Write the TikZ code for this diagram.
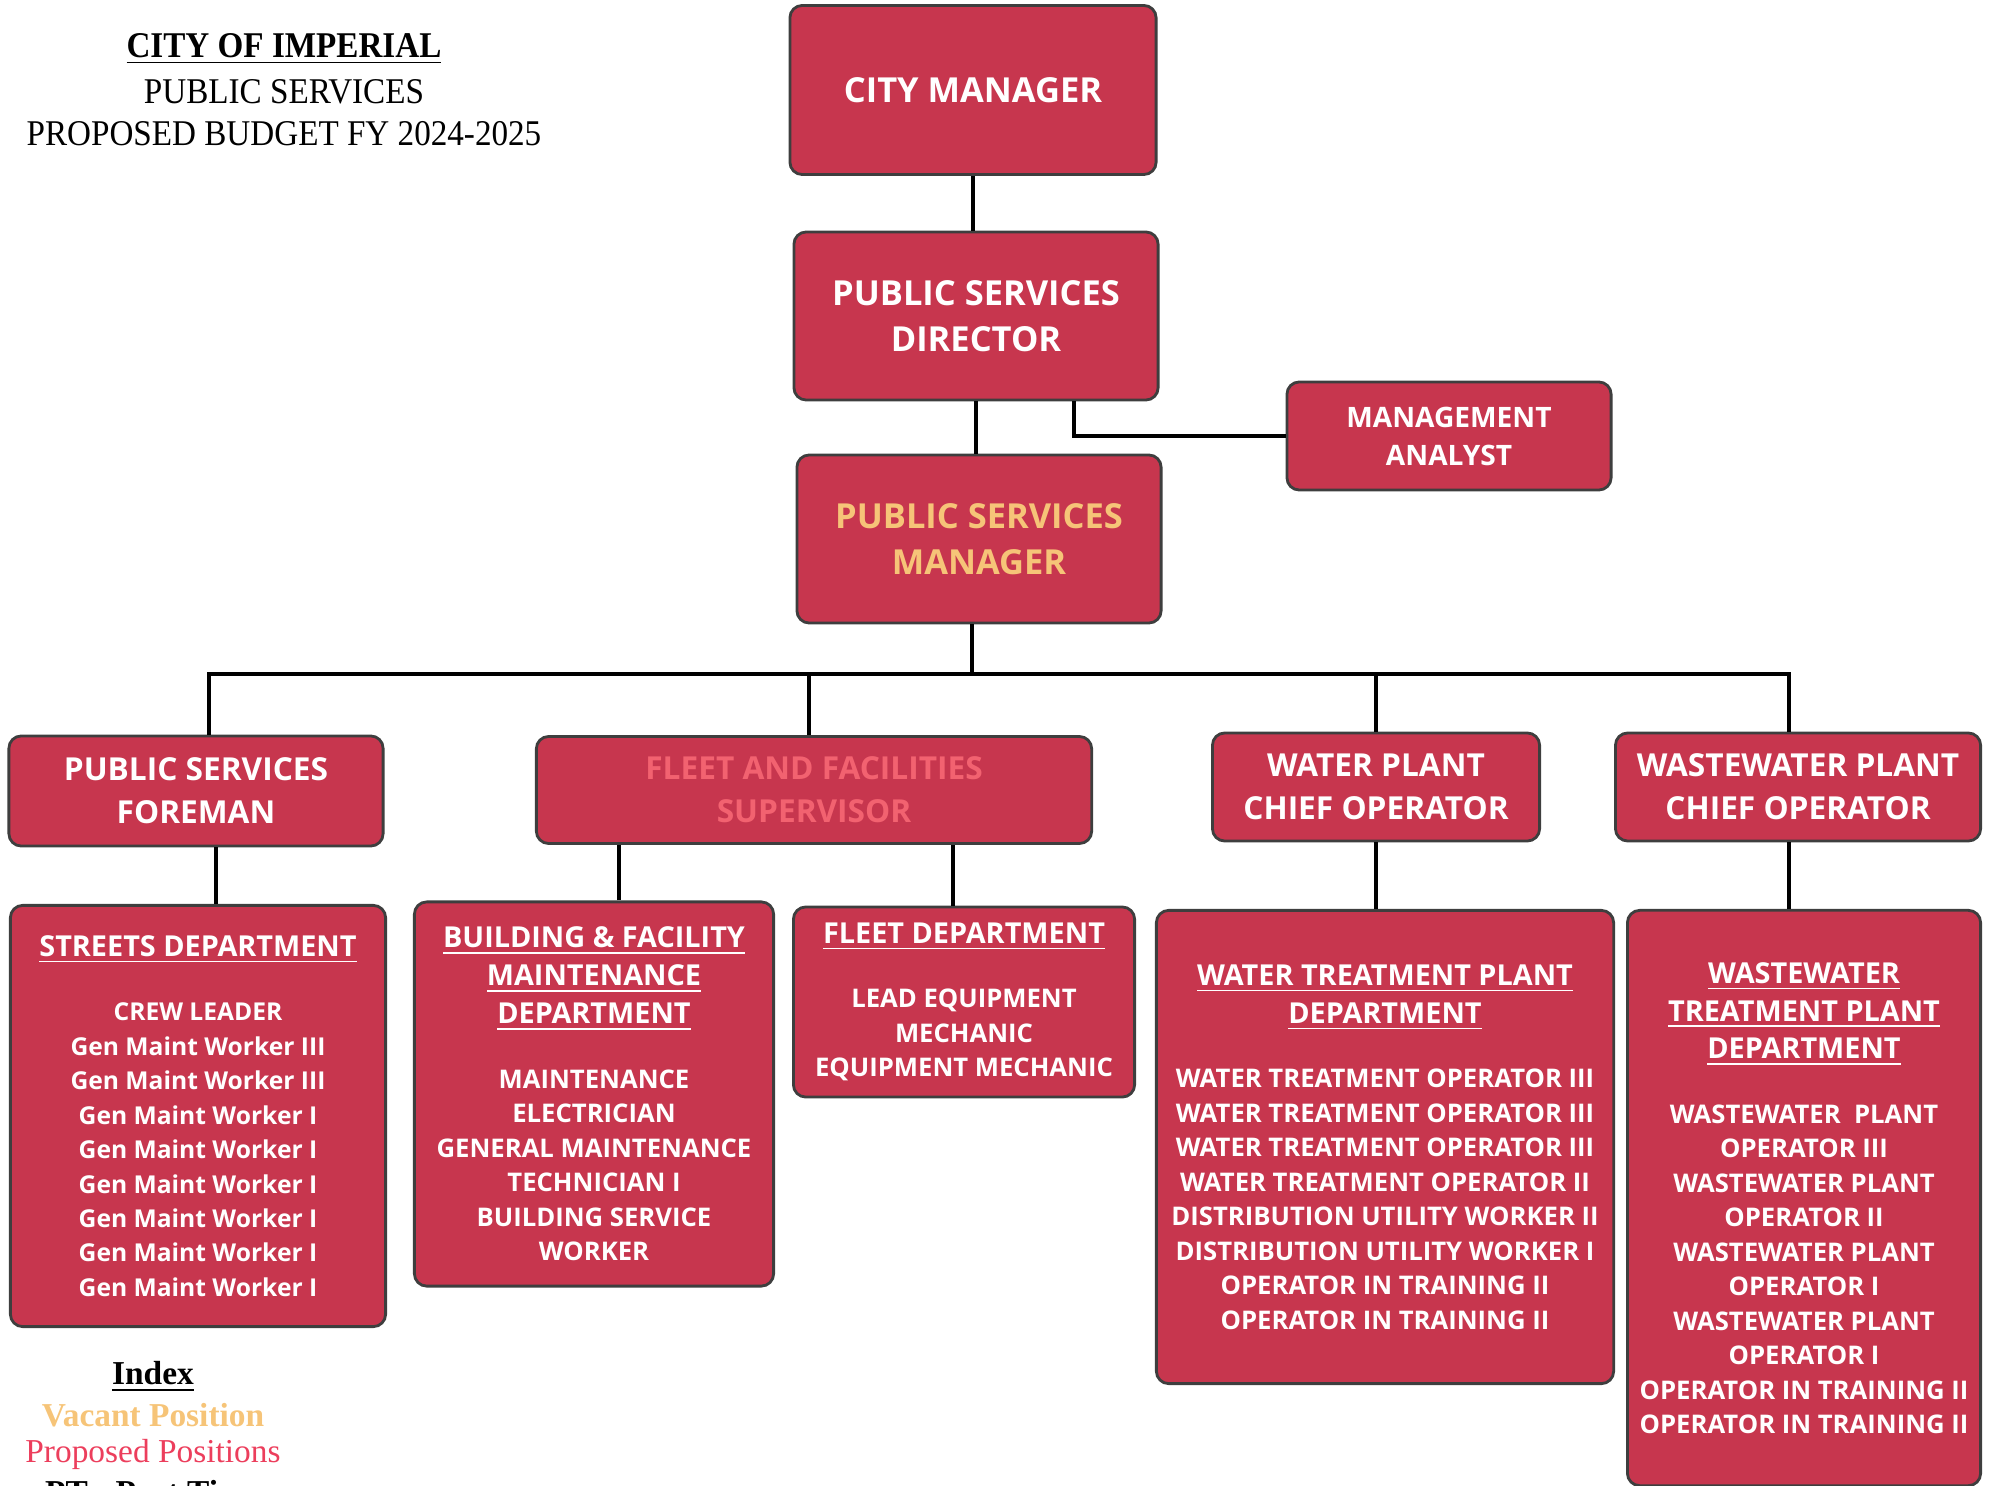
\documentclass[tikz,border=0pt]{standalone}
\usepackage{fontspec}
\setmainfont{Liberation Serif}
\newfontfamily\boxfont{Open Sans}
\usetikzlibrary{positioning}

\definecolor{boxred}{RGB}{199,54,78}
\definecolor{boxedge}{RGB}{62,62,62}
\definecolor{vacant}{RGB}{246,196,120}
\definecolor{proposed}{RGB}{242,98,112}
\definecolor{proposedkey}{RGB}{236,62,92}

\newcommand{\titleline}[1]{\scalebox{0.915}[1]{\fontsize{10.3}{12}\selectfont #1}}
\newcommand{\depthead}[1]{{\fontsize{8.2}{11.2}\selectfont\underline{#1}}}

\begin{document}
\begin{tikzpicture}[
        x=0.01cm, y=-0.01cm,
        % --- box looks ---
        orgbox/.style={
            draw=boxedge, line width=0.8pt, fill=boxred,
            rounded corners=3.5pt, inner sep=2pt,
            text=white, align=center
        },
        bigtxt/.style={font=\boxfont\bfseries\fontsize{9.8}{13}\selectfont},
        midtxt/.style={font=\boxfont\bfseries\fontsize{9}{12.3}\selectfont},
        smalltxt/.style={font=\boxfont\bfseries\fontsize{8}{10.8}\selectfont},
        depttxt/.style={font=\boxfont\bfseries\fontsize{7.3}{9.8}\selectfont},
        workertxt/.style={font=\boxfont\bfseries\fontsize{7}{9.8}\selectfont},
        link/.style={draw=black, line width=1.2pt}
    ]
    \useasboundingbox (0,0) rectangle (1989,1486);

    % ==================== TITLE ====================
    \node (title) at (284,49) {\titleline{\bfseries\underline{CITY OF IMPERIAL}}};
    \node (sub1)  at (284,92) {\titleline{PUBLIC SERVICES}};
    \node (sub2)  at (284,134) {\titleline{PROPOSED BUDGET FY 2024-2025}};

    % ==================== TOP LEVELS ====================
    \node[orgbox, bigtxt, minimum width=3.66cm, minimum height=1.69cm] (cityman) at (973,90) {CITY MANAGER};
    \node[orgbox, bigtxt, minimum width=3.64cm, minimum height=1.68cm] (psdir) at (976,316) {PUBLIC SERVICES\\DIRECTOR};
    \node[orgbox, smalltxt, minimum width=3.24cm, minimum height=1.08cm] (mgmt) at (1449,436) {MANAGEMENT\\ANALYST};
    \node[orgbox, bigtxt, minimum width=3.64cm, minimum height=1.68cm, text=vacant] (psman) at (979,539) {PUBLIC SERVICES\\MANAGER};

    % ==================== SECOND ROW ====================
    \node[orgbox, midtxt, minimum width=3.74cm, minimum height=1.10cm] (foreman) at (196,791) {PUBLIC SERVICES\\FOREMAN};
    \node[orgbox, midtxt, minimum width=5.55cm, minimum height=1.07cm, text=proposed] (fleetsup) at (814,790) {FLEET AND FACILITIES\\SUPERVISOR};
    \node[orgbox, midtxt, minimum width=3.27cm, minimum height=1.08cm] (waterchief) at (1376,787) {WATER PLANT\\CHIEF OPERATOR};
    \node[orgbox, midtxt, minimum width=3.65cm, minimum height=1.08cm] (wastechief) at (1798,787) {WASTEWATER PLANT\\CHIEF OPERATOR};

    % ==================== DEPARTMENTS ====================
    \node[orgbox, workertxt, minimum width=3.75cm, minimum height=4.21cm] (streets) at (198,1116) {%
        \depthead{STREETS DEPARTMENT}\\[0.3cm]
        CREW LEADER\\ Gen Maint Worker III\\ Gen Maint Worker III\\
        Gen Maint Worker I\\ Gen Maint Worker I\\ Gen Maint Worker I\\
        Gen Maint Worker I\\ Gen Maint Worker I\\ Gen Maint Worker I};
    \node[orgbox, depttxt, minimum width=3.59cm, minimum height=3.84cm] (building) at (594,1094) {%
        \depthead{BUILDING \& FACILITY}\\[1pt] \depthead{MAINTENANCE}\\[1pt] \depthead{DEPARTMENT}\\[0.3cm]
        MAINTENANCE\\ ELECTRICIAN\\ GENERAL MAINTENANCE\\ TECHNICIAN I\\ BUILDING SERVICE\\ WORKER};
    \node[orgbox, depttxt, minimum width=3.41cm, minimum height=1.90cm] (fleetdept) at (964,1002) {%
        \depthead{FLEET DEPARTMENT}\\[0.3cm]
        LEAD EQUIPMENT\\ MECHANIC\\ EQUIPMENT MECHANIC};
    \node[orgbox, depttxt, minimum width=4.57cm, minimum height=4.73cm] (waterdept) at (1385,1147) {%
        \depthead{WATER TREATMENT PLANT}\\[1pt] \depthead{DEPARTMENT}\\[0.3cm]
        WATER TREATMENT OPERATOR III\\ WATER TREATMENT OPERATOR III\\
        WATER TREATMENT OPERATOR III\\ WATER TREATMENT OPERATOR II\\
        DISTRIBUTION UTILITY WORKER II\\ DISTRIBUTION UTILITY WORKER I\\
        OPERATOR IN TRAINING II\\ OPERATOR IN TRAINING II};
    \node[orgbox, depttxt, minimum width=3.53cm, minimum height=5.75cm] (wastedept) at (1804,1198) {%
        \depthead{WASTEWATER}\\[1pt] \depthead{TREATMENT PLANT}\\[1pt] \depthead{DEPARTMENT}\\[0.3cm]
        WASTEWATER~ PLANT\\ OPERATOR III\\ WASTEWATER PLANT\\ OPERATOR II\\
        WASTEWATER PLANT\\ OPERATOR I\\ WASTEWATER PLANT\\ OPERATOR I\\
        OPERATOR IN TRAINING II\\ OPERATOR IN TRAINING II};

    % ==================== INDEX ====================
    \node (index)     at (153,1377) {\fontsize{9.5}{11}\selectfont\bfseries\underline{Index}};
    \node (vacantkey) at (153,1415) {\fontsize{9.5}{11}\selectfont\bfseries\color{vacant}Vacant Position};
    \node (propkey)   at (153,1454) {\fontsize{9.5}{11}\selectfont\color{proposedkey}Proposed Positions};
    \node (ptkey)     at (153,1492) {\fontsize{9.5}{11}\selectfont\bfseries PT - Part Time};

    % ==================== CONNECTORS ====================
    \coordinate (bus) at (972,674);
    \draw[link] (cityman.south) -- (cityman.south |- psdir.north);
    \draw[link] (psdir.south) -- (psdir.south |- psman.north);
    \draw[link] ([xshift=0.98cm]psdir.south) |- (mgmt.west);
    \draw[link] ([xshift=-0.07cm]psman.south) -- ([xshift=-0.07cm]psman.south |- bus);
    \draw[link] ([xshift=0.13cm]foreman.north) |- (bus) -| ([xshift=-0.09cm]wastechief.north);
    \draw[link] ([xshift=-0.05cm]fleetsup.north) -- ([xshift=-0.05cm]fleetsup.north |- bus);
    \draw[link] (waterchief.north) -- (waterchief.north |- bus);
    \draw[link] ([xshift=0.2cm]foreman.south) -- ([xshift=0.2cm]foreman.south |- streets.north);
    \draw[link] ([xshift=0.25cm]building.north) -- ([xshift=0.25cm]building.north |- fleetsup.south);
    \draw[link] ([xshift=-0.11cm]fleetdept.north) -- ([xshift=-0.11cm]fleetdept.north |- fleetsup.south);
    \draw[link] (waterchief.south) -- (waterchief.south |- waterdept.north);
    \draw[link] ([xshift=-0.09cm]wastechief.south) -- ([xshift=-0.09cm]wastechief.south |- wastedept.north);

\end{tikzpicture}
\end{document}
